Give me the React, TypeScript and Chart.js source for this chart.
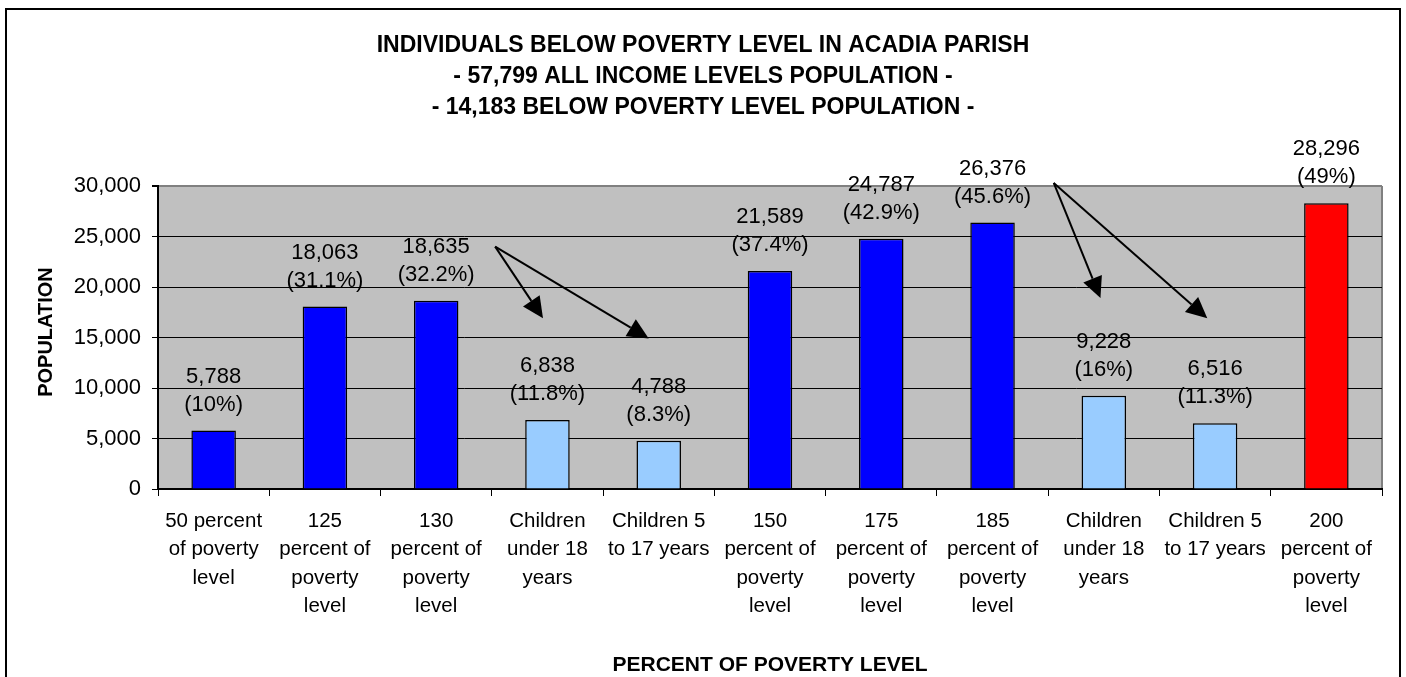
import React, { useEffect, useRef } from "react";
import { Chart, registerables } from "chart.js";

Chart.register(...registerables);

const FONT = 'Arial, "Liberation Sans", sans-serif';

const titleLines = [
  "INDIVIDUALS BELOW POVERTY LEVEL IN ACADIA PARISH",
  "- 57,799 ALL INCOME LEVELS POPULATION -",
  "- 14,183 BELOW POVERTY LEVEL POPULATION -",
];
const yAxisTitle = "POPULATION";
const xAxisTitle = "PERCENT OF POVERTY LEVEL";

const categories: string[][] = [
  ["50 percent", "of poverty", "level"],
  ["125", "percent of", "poverty", "level"],
  ["130", "percent of", "poverty", "level"],
  ["Children", "under 18", "years"],
  ["Children 5", "to 17 years"],
  ["150", "percent of", "poverty", "level"],
  ["175", "percent of", "poverty", "level"],
  ["185", "percent of", "poverty", "level"],
  ["Children", "under 18", "years"],
  ["Children 5", "to 17 years"],
  ["200", "percent of", "poverty", "level"],
];
const values = [5788, 18063, 18635, 6838, 4788, 21589, 24787, 26376, 9228, 6516, 28296];
const percents = ["10%", "31.1%", "32.2%", "11.8%", "8.3%", "37.4%", "42.9%", "45.6%", "16%", "11.3%", "49%"];
const barColors = [
  "#0000FF", "#0000FF", "#0000FF", "#99CCFF", "#99CCFF",
  "#0000FF", "#0000FF", "#0000FF", "#99CCFF", "#99CCFF", "#FF0000",
];
const yTicks = [0, 5000, 10000, 15000, 20000, 25000, 30000];

// Arrow annotations in data coordinates: [fromIndex, fromValue, toIndex, toValue]
const arrows: number[][] = [
  [2.53, 24000, 2.96, 16900],
  [2.53, 24000, 3.91, 14900],
  [7.55, 30300, 7.97, 18900],
  [7.55, 30300, 8.93, 16900],
];

function drawArrow(ctx: CanvasRenderingContext2D, x0: number, y0: number, x1: number, y1: number) {
  const ang = Math.atan2(y1 - y0, x1 - x0);
  const headLen = 21;
  const headHalf = 10;
  const bx = x1 - headLen * Math.cos(ang);
  const by = y1 - headLen * Math.sin(ang);
  ctx.save();
  ctx.strokeStyle = "#000";
  ctx.fillStyle = "#000";
  ctx.lineWidth = 2;
  ctx.beginPath();
  ctx.moveTo(x0, y0);
  ctx.lineTo(bx, by);
  ctx.stroke();
  ctx.beginPath();
  ctx.moveTo(x1, y1);
  ctx.lineTo(bx + headHalf * Math.sin(ang), by - headHalf * Math.cos(ang));
  ctx.lineTo(bx - headHalf * Math.sin(ang), by + headHalf * Math.cos(ang));
  ctx.closePath();
  ctx.fill();
  ctx.restore();
}

const decorPlugin = {
  id: "decor",
  beforeDraw(chart: any) {
    const { ctx, chartArea, width, height } = chart;
    ctx.save();
    ctx.fillStyle = "#FFFFFF";
    ctx.fillRect(0, 0, width, height);
    ctx.strokeStyle = "#000";
    ctx.lineWidth = 2;
    ctx.strokeRect(6, 9, 1394, height + 20);
    ctx.fillStyle = "#C0C0C0";
    ctx.fillRect(chartArea.left, chartArea.top, chartArea.right - chartArea.left, chartArea.bottom - chartArea.top);
    ctx.strokeStyle = "#808080";
    ctx.lineWidth = 2;
    ctx.beginPath();
    ctx.moveTo(chartArea.right, chartArea.top);
    ctx.lineTo(chartArea.right, chartArea.bottom);
    ctx.stroke();
    ctx.restore();
  },
  afterDatasetsDraw(chart: any) {
    const { ctx } = chart;
    const meta = chart.getDatasetMeta(0);
    ctx.save();
    ctx.fillStyle = "#000";
    ctx.font = `22px ${FONT}`;
    ctx.textAlign = "center";
    ctx.textBaseline = "middle";
    meta.data.forEach((el: any, i: number) => {
      ctx.fillText(values[i].toLocaleString("en-US"), el.x, el.y - 54);
      ctx.fillText(`(${percents[i]})`, el.x, el.y - 26);
    });
    ctx.restore();
    const xs = chart.scales.x;
    const ys = chart.scales.y;
    arrows.forEach((a) => {
      drawArrow(ctx, xs.getPixelForValue(a[0]), ys.getPixelForValue(a[1]), xs.getPixelForValue(a[2]), ys.getPixelForValue(a[3]));
    });
  },
  afterDraw(chart: any) {
    const { ctx, chartArea } = chart;
    ctx.save();
    ctx.fillStyle = "#000";
    ctx.textAlign = "center";
    ctx.textBaseline = "middle";
    ctx.font = `bold 23px ${FONT}`;
    titleLines.forEach((t, i) => ctx.fillText(t, 703, 46 + i * 31));
    ctx.font = `bold 21px ${FONT}`;
    ctx.fillText(xAxisTitle, (chartArea.left + chartArea.right) / 2, 665);
    ctx.translate(46, 332);
    ctx.rotate(-Math.PI / 2);
    ctx.font = `bold 20px ${FONT}`;
    ctx.fillText(yAxisTitle, 0, 0);
    ctx.restore();
  },
};

export default function App() {
  const ref = useRef<HTMLCanvasElement | null>(null);
  useEffect(() => {
    if (!ref.current) return;
    const chart = new Chart(ref.current, {
      type: "bar",
      data: {
        labels: categories,
        datasets: [
          {
            data: values,
            backgroundColor: barColors,
            borderColor: "#000",
            borderWidth: 1.5,
            barPercentage: 0.4,
            categoryPercentage: 1,
          },
        ],
      },
      options: {
        animation: false,
        responsive: false,
        devicePixelRatio: 1,
        layout: { padding: { top: 186, right: 24, bottom: 0, left: 0 } },
        plugins: { legend: { display: false }, title: { display: false }, tooltip: { enabled: false } },
        scales: {
          x: {
            afterFit: (s: any) => { s.height = 188; },
            grid: { display: true, drawOnChartArea: false, drawTicks: true, tickLength: 7, color: "#000", offset: true },
            border: { color: "#000", width: 2 },
            ticks: { color: "#000", font: { family: FONT, size: 20.5, lineHeight: 1.39 }, padding: 11, maxRotation: 0, autoSkip: false },
          },
          y: {
            min: 0,
            max: 30000,
            afterFit: (s: any) => { s.width = 158; },
            afterBuildTicks: (s: any) => { s.ticks = yTicks.map((v) => ({ value: v })); },
            grid: {
              color: (c: any) => (c.tick && c.tick.value === 30000 ? "#808080" : "#000"),
              lineWidth: (c: any) => (c.tick && c.tick.value === 30000 ? 2 : 1),
              tickColor: "#000",
              tickLength: 6,
            },
            border: { color: "#000", width: 2 },
            ticks: {
              color: "#000",
              font: { family: FONT, size: 22 },
              padding: 11,
              callback: (v: any) => Number(v).toLocaleString("en-US"),
            },
          },
        },
      },
      plugins: [decorPlugin],
    });
    return () => chart.destroy();
  }, []);
  return (
    <div style={{ position: "fixed", left: 0, top: 0, width: 1406, height: 677 }}>
      <canvas ref={ref} width={1406} height={677} style={{ display: "block" }} />
    </div>
  );
}
